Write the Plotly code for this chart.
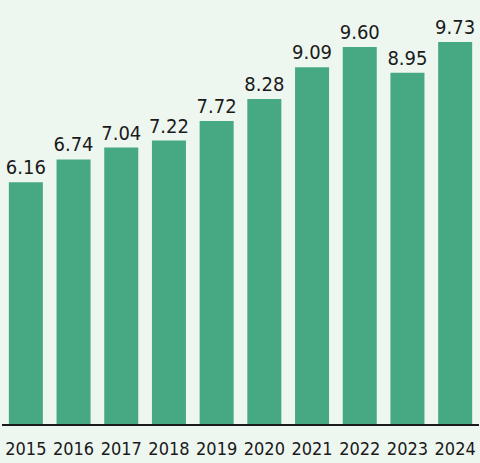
import plotly.graph_objects as go

years = ['2015', '2016', '2017', '2018', '2019', '2020', '2021', '2022', '2023', '2024']
values = [6.16, 6.74, 7.04, 7.22, 7.72, 8.28, 9.09, 9.60, 8.95, 9.73]

bg = '#eef6f0'
bar_color = '#47a884'
ink = '#1a1a1a'
font_name = 'DejaVu Sans Condensed, sans-serif'

fig = go.Figure()
fig.add_trace(go.Bar(x=years, y=values, marker=dict(color=bar_color, line=dict(width=0)),
                     text=[f'{v:.2f}' for v in values], textposition='outside',
                     constraintext='none',
                     textfont=dict(family=font_name, size=20, color=ink),
                     cliponaxis=False, hoverinfo='skip'))

fig.update_layout(width=480, height=463, paper_bgcolor=bg, plot_bgcolor=bg,
                  margin=dict(l=2, r=1, t=0, b=39), bargap=0.287, showlegend=False,
                  xaxis=dict(type='category', showline=True, linecolor=ink, linewidth=2,
                             showgrid=False, ticks='', tickangle=0, automargin=False,
                             ticklabelstandoff=7,
                             tickfont=dict(family=font_name, size=18, color=ink)),
                  yaxis=dict(range=[0, 10.8], visible=False, showgrid=False, zeroline=False,
                             automargin=False))

# page has a default 8px body margin; drop it so the chart fills the window
fig.write_html("out.html", config={'displayModeBar': False},
               post_script="document.body.style.margin='0';")
